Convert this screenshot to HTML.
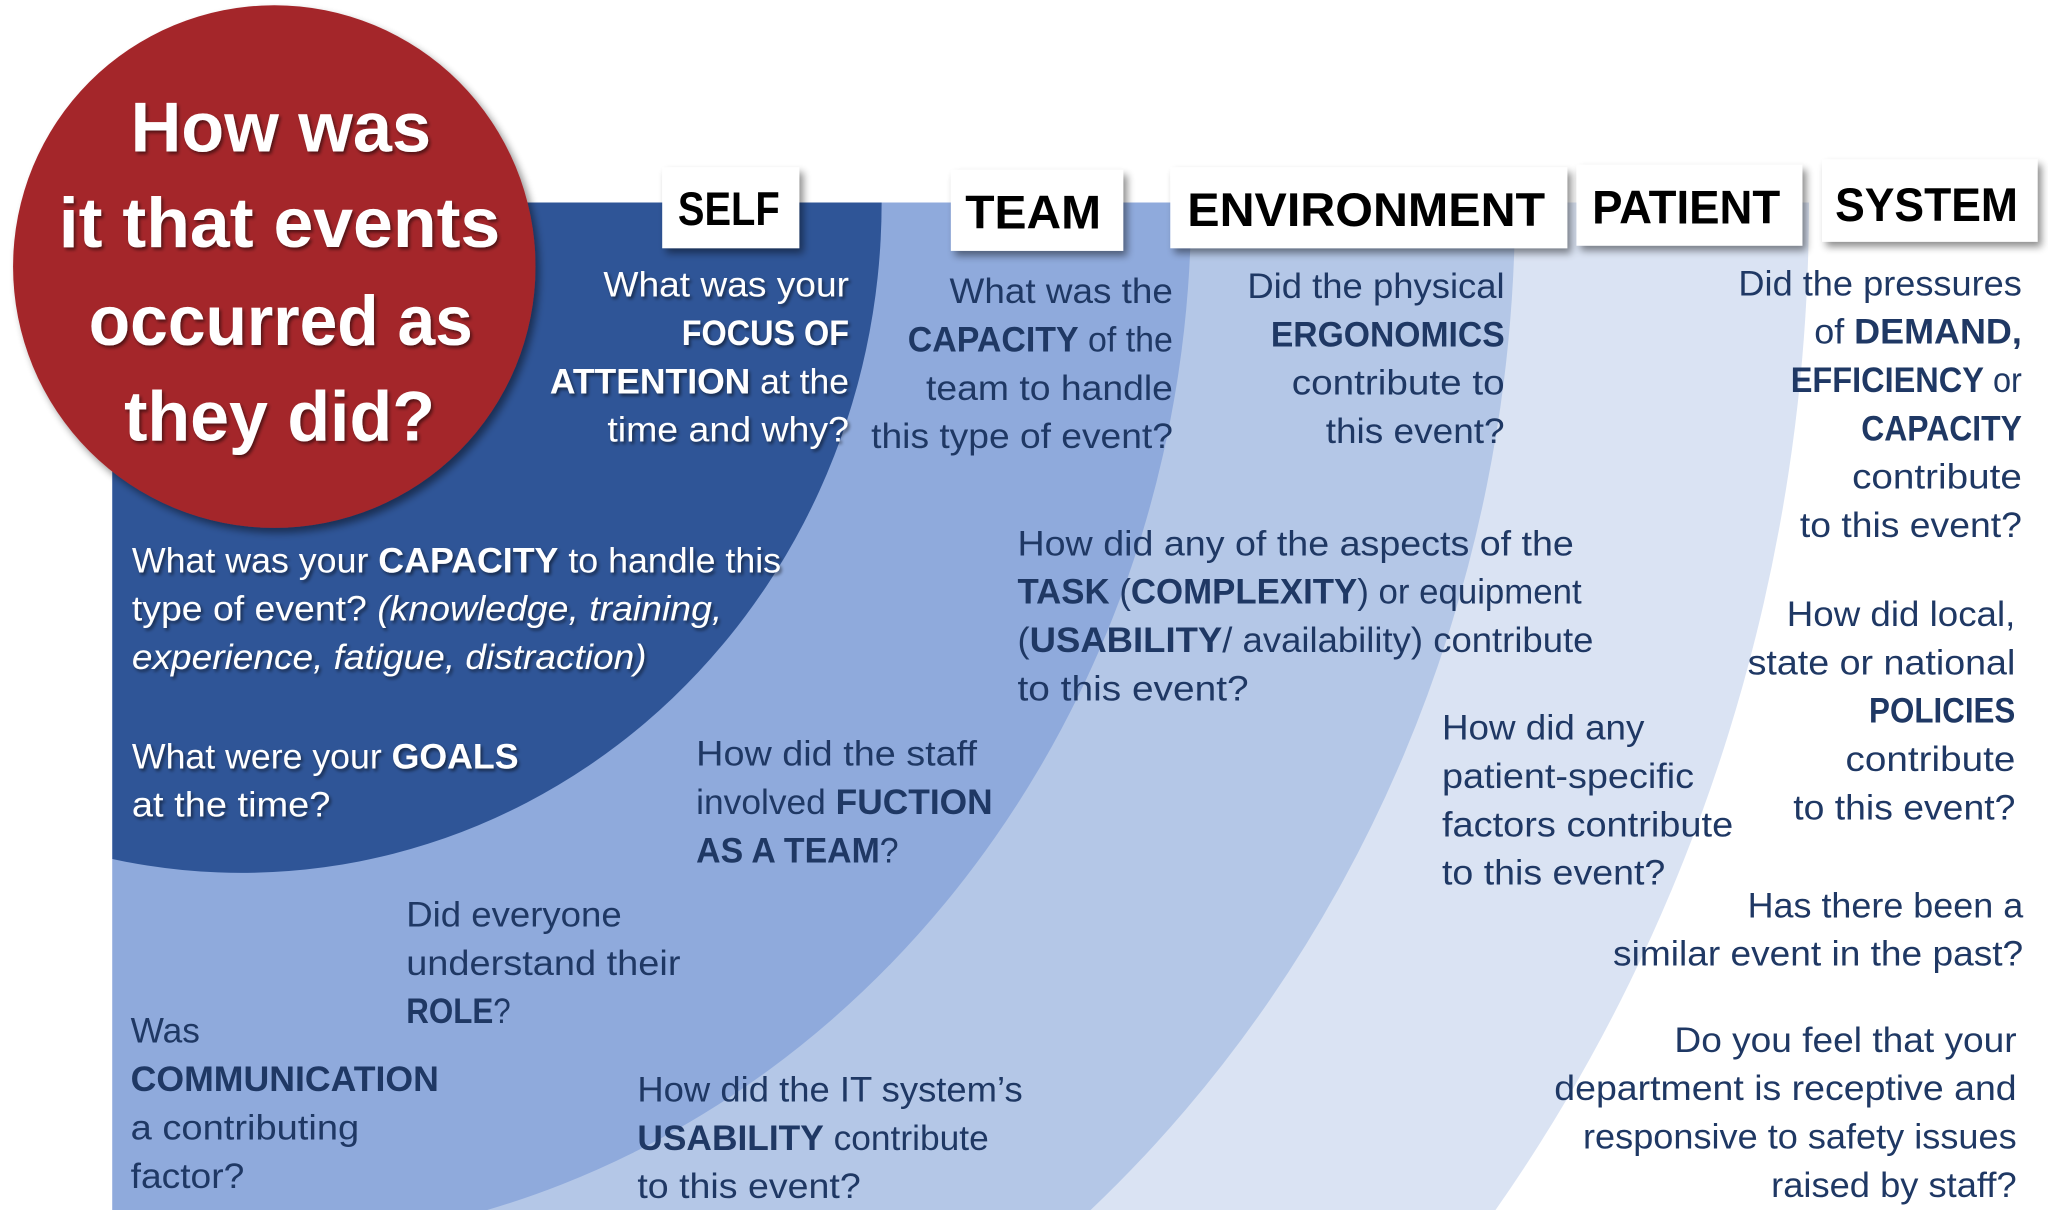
<!DOCTYPE html>
<html><head><meta charset="utf-8"><style>
html,body{margin:0;padding:0;background:#fff;width:2048px;height:1227px;overflow:hidden;}
svg{display:block;}
text{font-family:"Liberation Sans Narrow","Liberation Sans",sans-serif;}
.n{fill:#1f3864;font-size:27px;}
.w{fill:#fff;font-size:27px;}
.h{fill:#000;font-size:36px;font-weight:bold;}
.r{fill:#fff;font-size:54px;font-weight:bold;}
</style></head><body>
<svg width="2048" height="1227" viewBox="0 0 1568 939" preserveAspectRatio="none" xmlns="http://www.w3.org/2000/svg">
<defs>
<filter id="sh" x="-20%" y="-20%" width="140%" height="140%"><feGaussianBlur in="SourceAlpha" stdDeviation="3"/><feOffset dx="3" dy="4"/><feComponentTransfer><feFuncA type="linear" slope="0.45"/></feComponentTransfer><feMerge><feMergeNode/><feMergeNode in="SourceGraphic"/></feMerge></filter>
<filter id="ts"><feGaussianBlur in="SourceAlpha" stdDeviation="1.2"/><feOffset dx="1.5" dy="2"/><feComponentTransfer><feFuncA type="linear" slope="0.5"/></feComponentTransfer><feMerge><feMergeNode/><feMergeNode in="SourceGraphic"/></feMerge></filter>
</defs>
<path d="M86,155 L1385,155 A1200,1285 0 0 1 1145,926 L86,926 Z" fill="#dae3f3"/>
<path d="M86,155 L1160,155 A975,1035 0 0 1 835,926 L86,926 Z" fill="#b4c7e7"/>
<path d="M86,155 L912,155 A727,798 0 0 1 373,926 L86,926 Z" fill="#8faadc"/>
<path d="M86,155 L675,155 A490,513 0 0 1 86,657.4 Z" fill="#2f5597"/>

<circle cx="210" cy="204" r="200" fill="#a4262c" filter="url(#sh)"/>
<g filter="url(#ts)" text-anchor="middle">
<text class="r" x="215" y="116" textLength="230" lengthAdjust="spacingAndGlyphs">How was</text>
<text class="r" x="214" y="189" textLength="338" lengthAdjust="spacingAndGlyphs">it that events</text>
<text class="r" x="215" y="264" textLength="294" lengthAdjust="spacingAndGlyphs">occurred as</text>
<text class="r" x="214" y="337" textLength="238" lengthAdjust="spacingAndGlyphs">they did?</text>
</g>

<g filter="url(#sh)" fill="#fff">
<rect x="507" y="128" width="105" height="62"/>
<rect x="728" y="130" width="132" height="62"/>
<rect x="896" y="128" width="304" height="62"/>
<rect x="1207" y="126" width="173" height="62"/>
<rect x="1395" y="122" width="165" height="63"/>
</g>
<text class="h" x="519" y="172" textLength="78" lengthAdjust="spacingAndGlyphs">SELF</text>
<text class="h" x="739" y="175" textLength="104" lengthAdjust="spacingAndGlyphs">TEAM</text>
<text class="h" x="909" y="173" textLength="274" lengthAdjust="spacingAndGlyphs">ENVIRONMENT</text>
<text class="h" x="1219" y="171" textLength="144" lengthAdjust="spacingAndGlyphs">PATIENT</text>
<text class="h" x="1405" y="169" textLength="140" lengthAdjust="spacingAndGlyphs">SYSTEM</text>

<g filter="url(#ts)">
<g text-anchor="end">
<text class="w" x="650" y="227" textLength="188" lengthAdjust="spacingAndGlyphs">What was your</text>
<text class="w" x="650" y="264" textLength="128" lengthAdjust="spacingAndGlyphs" font-weight="bold">FOCUS OF</text>
<text class="w" x="650" y="301" textLength="229" lengthAdjust="spacingAndGlyphs"><tspan font-weight="bold">ATTENTION</tspan> at the</text>
<text class="w" x="650" y="338" textLength="185" lengthAdjust="spacingAndGlyphs">time and why?</text>
</g>
<text class="w" x="101" y="438" textLength="497" lengthAdjust="spacingAndGlyphs">What was your <tspan font-weight="bold">CAPACITY</tspan> to handle this</text>
<text class="w" x="101" y="475" textLength="452" lengthAdjust="spacingAndGlyphs">type of event? <tspan font-style="italic">(knowledge, training,</tspan></text>
<text class="w" x="101" y="512" textLength="394" lengthAdjust="spacingAndGlyphs" font-style="italic">experience, fatigue, distraction)</text>
<text class="w" x="101" y="588" textLength="296" lengthAdjust="spacingAndGlyphs">What were your <tspan font-weight="bold">GOALS</tspan></text>
<text class="w" x="101" y="625" textLength="152" lengthAdjust="spacingAndGlyphs">at the time?</text>
</g>

<g text-anchor="end">
<text class="n" x="898" y="232" textLength="171" lengthAdjust="spacingAndGlyphs">What was the</text>
<text class="n" x="898" y="269" textLength="203" lengthAdjust="spacingAndGlyphs"><tspan font-weight="bold">CAPACITY</tspan> of the</text>
<text class="n" x="898" y="306" textLength="189" lengthAdjust="spacingAndGlyphs">team to handle</text>
<text class="n" x="898" y="343" textLength="231" lengthAdjust="spacingAndGlyphs">this type of event?</text>

<text class="n" x="1152" y="228" textLength="197" lengthAdjust="spacingAndGlyphs">Did the physical</text>
<text class="n" x="1152" y="265" textLength="179" lengthAdjust="spacingAndGlyphs" font-weight="bold">ERGONOMICS</text>
<text class="n" x="1152" y="302" textLength="163" lengthAdjust="spacingAndGlyphs">contribute to</text>
<text class="n" x="1152" y="339" textLength="137" lengthAdjust="spacingAndGlyphs">this event?</text>

<text class="n" x="1548" y="226" textLength="217" lengthAdjust="spacingAndGlyphs">Did the pressures</text>
<text class="n" x="1548" y="263" textLength="159" lengthAdjust="spacingAndGlyphs">of <tspan font-weight="bold">DEMAND,</tspan></text>
<text class="n" x="1548" y="300" textLength="177" lengthAdjust="spacingAndGlyphs"><tspan font-weight="bold">EFFICIENCY</tspan> or</text>
<text class="n" x="1548" y="337" textLength="123" lengthAdjust="spacingAndGlyphs" font-weight="bold">CAPACITY</text>
<text class="n" x="1548" y="374" textLength="130" lengthAdjust="spacingAndGlyphs">contribute</text>
<text class="n" x="1548" y="411" textLength="170" lengthAdjust="spacingAndGlyphs">to this event?</text>

<text class="n" x="1543" y="479" textLength="175" lengthAdjust="spacingAndGlyphs">How did local,</text>
<text class="n" x="1543" y="516" textLength="205" lengthAdjust="spacingAndGlyphs">state or national</text>
<text class="n" x="1543" y="553" textLength="112" lengthAdjust="spacingAndGlyphs" font-weight="bold">POLICIES</text>
<text class="n" x="1543" y="590" textLength="130" lengthAdjust="spacingAndGlyphs">contribute</text>
<text class="n" x="1543" y="627" textLength="170" lengthAdjust="spacingAndGlyphs">to this event?</text>

<text class="n" x="1549" y="702" textLength="211" lengthAdjust="spacingAndGlyphs">Has there been a</text>
<text class="n" x="1549" y="739" textLength="314" lengthAdjust="spacingAndGlyphs">similar event in the past?</text>

<text class="n" x="1544" y="805" textLength="262" lengthAdjust="spacingAndGlyphs">Do you feel that your</text>
<text class="n" x="1544" y="842" textLength="354" lengthAdjust="spacingAndGlyphs">department is receptive and</text>
<text class="n" x="1544" y="879" textLength="332" lengthAdjust="spacingAndGlyphs">responsive to safety issues</text>
<text class="n" x="1544" y="916" textLength="188" lengthAdjust="spacingAndGlyphs">raised by staff?</text>
</g>

<text class="n" x="779" y="425" textLength="426" lengthAdjust="spacingAndGlyphs">How did any of the  aspects of the</text>
<text class="n" x="779" y="462" textLength="432" lengthAdjust="spacingAndGlyphs"><tspan font-weight="bold">TASK</tspan> (<tspan font-weight="bold">COMPLEXITY</tspan>) or equipment</text>
<text class="n" x="779" y="499" textLength="441" lengthAdjust="spacingAndGlyphs">(<tspan font-weight="bold">USABILITY</tspan>/ availability) contribute</text>
<text class="n" x="779" y="536" textLength="177" lengthAdjust="spacingAndGlyphs">to  this event?</text>

<text class="n" x="1104" y="566" textLength="155" lengthAdjust="spacingAndGlyphs">How did any</text>
<text class="n" x="1104" y="603" textLength="193" lengthAdjust="spacingAndGlyphs">patient-specific</text>
<text class="n" x="1104" y="640" textLength="223" lengthAdjust="spacingAndGlyphs">factors contribute</text>
<text class="n" x="1104" y="677" textLength="171" lengthAdjust="spacingAndGlyphs">to this event?</text>

<text class="n" x="533" y="586" textLength="215" lengthAdjust="spacingAndGlyphs">How did the staff</text>
<text class="n" x="533" y="623" textLength="227" lengthAdjust="spacingAndGlyphs">involved <tspan font-weight="bold">FUCTION</tspan></text>
<text class="n" x="533" y="660" textLength="155" lengthAdjust="spacingAndGlyphs" font-weight="bold">AS A TEAM<tspan font-weight="normal">?</tspan></text>

<text class="n" x="311" y="709" textLength="165" lengthAdjust="spacingAndGlyphs">Did everyone</text>
<text class="n" x="311" y="746" textLength="210" lengthAdjust="spacingAndGlyphs">understand their</text>
<text class="n" x="311" y="783" textLength="80" lengthAdjust="spacingAndGlyphs" font-weight="bold">ROLE<tspan font-weight="normal">?</tspan></text>

<text class="n" x="100" y="798" textLength="53" lengthAdjust="spacingAndGlyphs">Was</text>
<text class="n" x="100" y="835" textLength="236" lengthAdjust="spacingAndGlyphs" font-weight="bold">COMMUNICATION</text>
<text class="n" x="100" y="872" textLength="175" lengthAdjust="spacingAndGlyphs">a contributing</text>
<text class="n" x="100" y="909" textLength="87" lengthAdjust="spacingAndGlyphs">factor?</text>

<text class="n" x="488" y="843" textLength="295" lengthAdjust="spacingAndGlyphs">How did the IT system’s</text>
<text class="n" x="488" y="880" textLength="269" lengthAdjust="spacingAndGlyphs"><tspan font-weight="bold">USABILITY</tspan> contribute</text>
<text class="n" x="488" y="917" textLength="171" lengthAdjust="spacingAndGlyphs">to this event?</text>
</svg>
</body></html>
